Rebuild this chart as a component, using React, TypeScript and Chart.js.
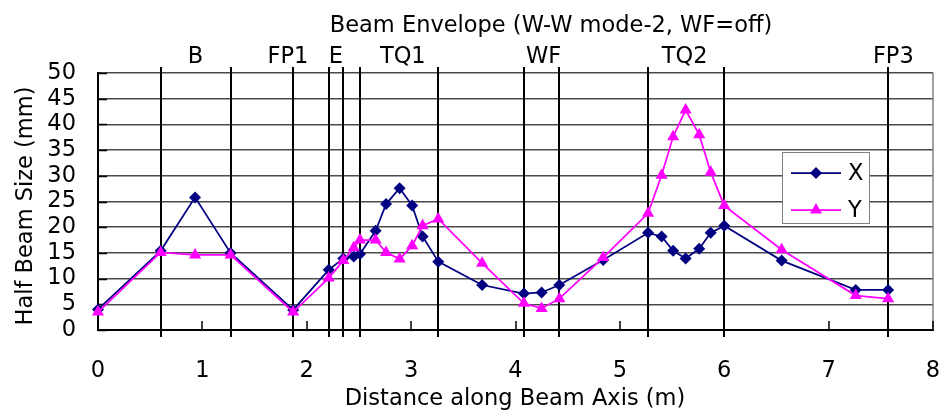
import React, { useEffect, useRef } from 'react';
import { Chart, registerables } from 'chart.js';

Chart.register(...registerables);

// Distance along beam axis (m) of each sampled point
const positions = [0, 0.6, 0.93, 1.27, 1.87, 2.21, 2.35, 2.45, 2.51, 2.66, 2.76, 2.89, 3.01, 3.11, 3.26, 3.68, 4.08, 4.25, 4.42, 4.84, 5.27, 5.4, 5.51, 5.63, 5.76, 5.87, 6.0, 6.55, 7.26, 7.57];
// Half beam size (mm)
const sizeX = [4.0, 15.4, 25.8, 15.0, 3.9, 11.7, 13.9, 14.3, 14.8, 19.3, 24.5, 27.6, 24.2, 18.2, 13.3, 8.75, 7.1, 7.3, 8.75, 13.6, 18.9, 18.2, 15.4, 13.9, 15.8, 18.9, 20.3, 13.5, 7.8, 7.8];
const sizeY = [3.5, 15.1, 14.6, 14.6, 3.5, 10.1, 13.5, 16.0, 17.5, 17.5, 15.1, 13.8, 16.4, 20.3, 21.6, 13.0, 5.2, 4.2, 6.1, 14.1, 22.7, 30.1, 37.6, 42.8, 38.0, 30.7, 24.2, 15.6, 6.7, 6.1];

// Element boundaries (m)
const elementBoundaries = [0.6, 1.27, 1.87, 2.21, 2.35, 2.51, 3.26, 4.08, 4.42, 5.27, 6.0, 7.57];
// Element names and their label positions (m)
const elementLabels = ['B', 'FP1', 'E', 'TQ1', 'WF', 'TQ2', 'FP3'];
const elementLabelPositions = [0.935, 1.82, 2.28, 2.92, 4.27, 5.62, 7.62];

const seriesNames = ['X', 'Y'];
const titleText = 'Beam Envelope (W-W mode-2, WF=off)';
const xTitle = 'Distance along Beam Axis (m)';
const yTitle = 'Half Beam Size (mm)';

const FONT = '"DejaVu Sans", sans-serif';
const FSIZE = 22.5;
const NAVY = '#000080';
const MAGENTA = '#FF00FF';

const overlayPlugin = {
  id: 'overlay',
  beforeDatasetsDraw(chart: any) {
    const { ctx, chartArea } = chart;
    const xs = chart.scales.x;
    const ys = chart.scales.y;
    ctx.save();
    // right border
    ctx.strokeStyle = '#808080';
    ctx.lineWidth = 1.5;
    ctx.beginPath();
    ctx.moveTo(chartArea.right, chartArea.top);
    ctx.lineTo(chartArea.right, chartArea.bottom);
    ctx.stroke();
    // element boundaries
    ctx.strokeStyle = '#000';
    ctx.lineWidth = 2;
    elementBoundaries.forEach((b) => {
      const px = Math.round(xs.getPixelForValue(b));
      ctx.beginPath();
      ctx.moveTo(px, chartArea.top - 6);
      ctx.lineTo(px, chartArea.bottom + 7);
      ctx.stroke();
    });
    // inward ticks on x axis
    ctx.lineWidth = 1.5;
    for (let v = 0; v <= 8; v++) {
      const px = Math.round(xs.getPixelForValue(v));
      ctx.beginPath();
      ctx.moveTo(px, chartArea.bottom);
      ctx.lineTo(px, chartArea.bottom - 9);
      ctx.stroke();
    }
    // inward ticks on y axis
    for (let v = 0; v <= 50; v += 5) {
      const py = Math.round(ys.getPixelForValue(v)) + 0.5;
      ctx.beginPath();
      ctx.moveTo(chartArea.left, py);
      ctx.lineTo(chartArea.left + 9, py);
      ctx.stroke();
    }
    ctx.restore();
  },
  afterDraw(chart: any) {
    const { ctx } = chart;
    const xs = chart.scales.x;
    ctx.save();
    ctx.fillStyle = '#000';
    ctx.font = `${FSIZE}px ${FONT}`;
    ctx.textAlign = 'center';
    ctx.textBaseline = 'alphabetic';
    ctx.fillText(titleText, 551, 32);
    elementLabels.forEach((l, i) => {
      ctx.fillText(l, xs.getPixelForValue(elementLabelPositions[i]), 63);
    });
    ctx.fillText(xTitle, 515, 405);
    ctx.save();
    ctx.translate(32, 206);
    ctx.rotate(-Math.PI / 2);
    ctx.fillText(yTitle, 0, 0);
    ctx.restore();

    // legend
    const lx = 782, ly = 152, lw = 87, lh = 71;
    ctx.fillStyle = '#fff';
    ctx.fillRect(lx, ly, lw, lh);
    ctx.strokeStyle = '#808080';
    ctx.lineWidth = 1;
    ctx.strokeRect(lx + 0.5, ly + 0.5, lw, lh);
    const rows = [173, 210];
    chart.data.datasets.forEach((ds: any, i: number) => {
      const y = rows[i];
      ctx.strokeStyle = ds.borderColor;
      ctx.lineWidth = 1.75;
      ctx.beginPath();
      ctx.moveTo(791, y);
      ctx.lineTo(841, y);
      ctx.stroke();
      ctx.fillStyle = ds.backgroundColor;
      const r = ds.pointRadius;
      ctx.beginPath();
      if (ds.pointStyle === 'rectRot') {
        ctx.moveTo(816, y - r);
        ctx.lineTo(816 + r, y);
        ctx.lineTo(816, y + r);
        ctx.lineTo(816 - r, y);
      } else {
        ctx.moveTo(816, y - r);
        ctx.lineTo(816 + r * 0.866, y + r / 2);
        ctx.lineTo(816 - r * 0.866, y + r / 2);
      }
      ctx.closePath();
      ctx.fill();
      ctx.fillStyle = '#000';
      ctx.textAlign = 'left';
      ctx.textBaseline = 'middle';
      ctx.fillText(ds.label, 848, y + 1);
    });
    ctx.restore();
  },
};

export default function App() {
  const ref = useRef<HTMLCanvasElement | null>(null);
  useEffect(() => {
    if (!ref.current) return;
    const chart = new Chart(ref.current, {
      type: 'line',
      data: {
        datasets: [
          {
            label: seriesNames[0],
            data: positions.map((p, i) => ({ x: p, y: sizeX[i] })),
            borderColor: NAVY,
            backgroundColor: NAVY,
            borderWidth: 1.75,
            pointStyle: 'rectRot',
            pointRadius: 6,
            pointBorderWidth: 0,
            pointHoverRadius: 6,
            clip: false,
            order: 2,
          },
          {
            label: seriesNames[1],
            data: positions.map((p, i) => ({ x: p, y: sizeY[i] })),
            borderColor: MAGENTA,
            backgroundColor: MAGENTA,
            borderWidth: 1.75,
            pointStyle: 'triangle',
            pointRadius: 7,
            pointBorderWidth: 0,
            pointHoverRadius: 7,
            clip: false,
            order: 1,
          },
        ],
      },
      options: {
        responsive: false,
        animation: false,
        devicePixelRatio: 1,
        layout: { padding: { top: 73, right: 6, left: 0, bottom: 0 } },
        plugins: { legend: { display: false }, title: { display: false }, tooltip: { enabled: false } },
        scales: {
          x: {
            type: 'linear',
            min: 0,
            max: 8,
            ticks: { stepSize: 1, autoSkip: false, color: '#000', font: { family: FONT, size: FSIZE }, padding: 28, maxRotation: 0 },
            grid: { display: false, drawTicks: false },
            border: { display: true, color: '#000', width: 2 },
            afterFit: (s: any) => { s.height = 82; s.paddingLeft = 0; s.paddingRight = 0; },
          },
          y: {
            type: 'linear',
            min: 0,
            max: 50,
            ticks: { stepSize: 5, autoSkip: false, color: '#000', font: { family: FONT, size: FSIZE }, padding: 22 },
            grid: { color: '#4a4a4a', lineWidth: 1.5, drawTicks: false },
            border: { display: true, color: '#000', width: 2 },
            afterFit: (s: any) => { s.width = 98; s.paddingTop = 0; s.paddingBottom = 0; },
          },
        },
      },
      plugins: [overlayPlugin],
    });
    return () => chart.destroy();
  }, []);
  return (
    <div style={{ position: 'fixed', left: 0, top: 0, width: 940, height: 412, background: '#fff' }}>
      <canvas ref={ref} width={940} height={412} style={{ display: 'block' }} />
    </div>
  );
}
